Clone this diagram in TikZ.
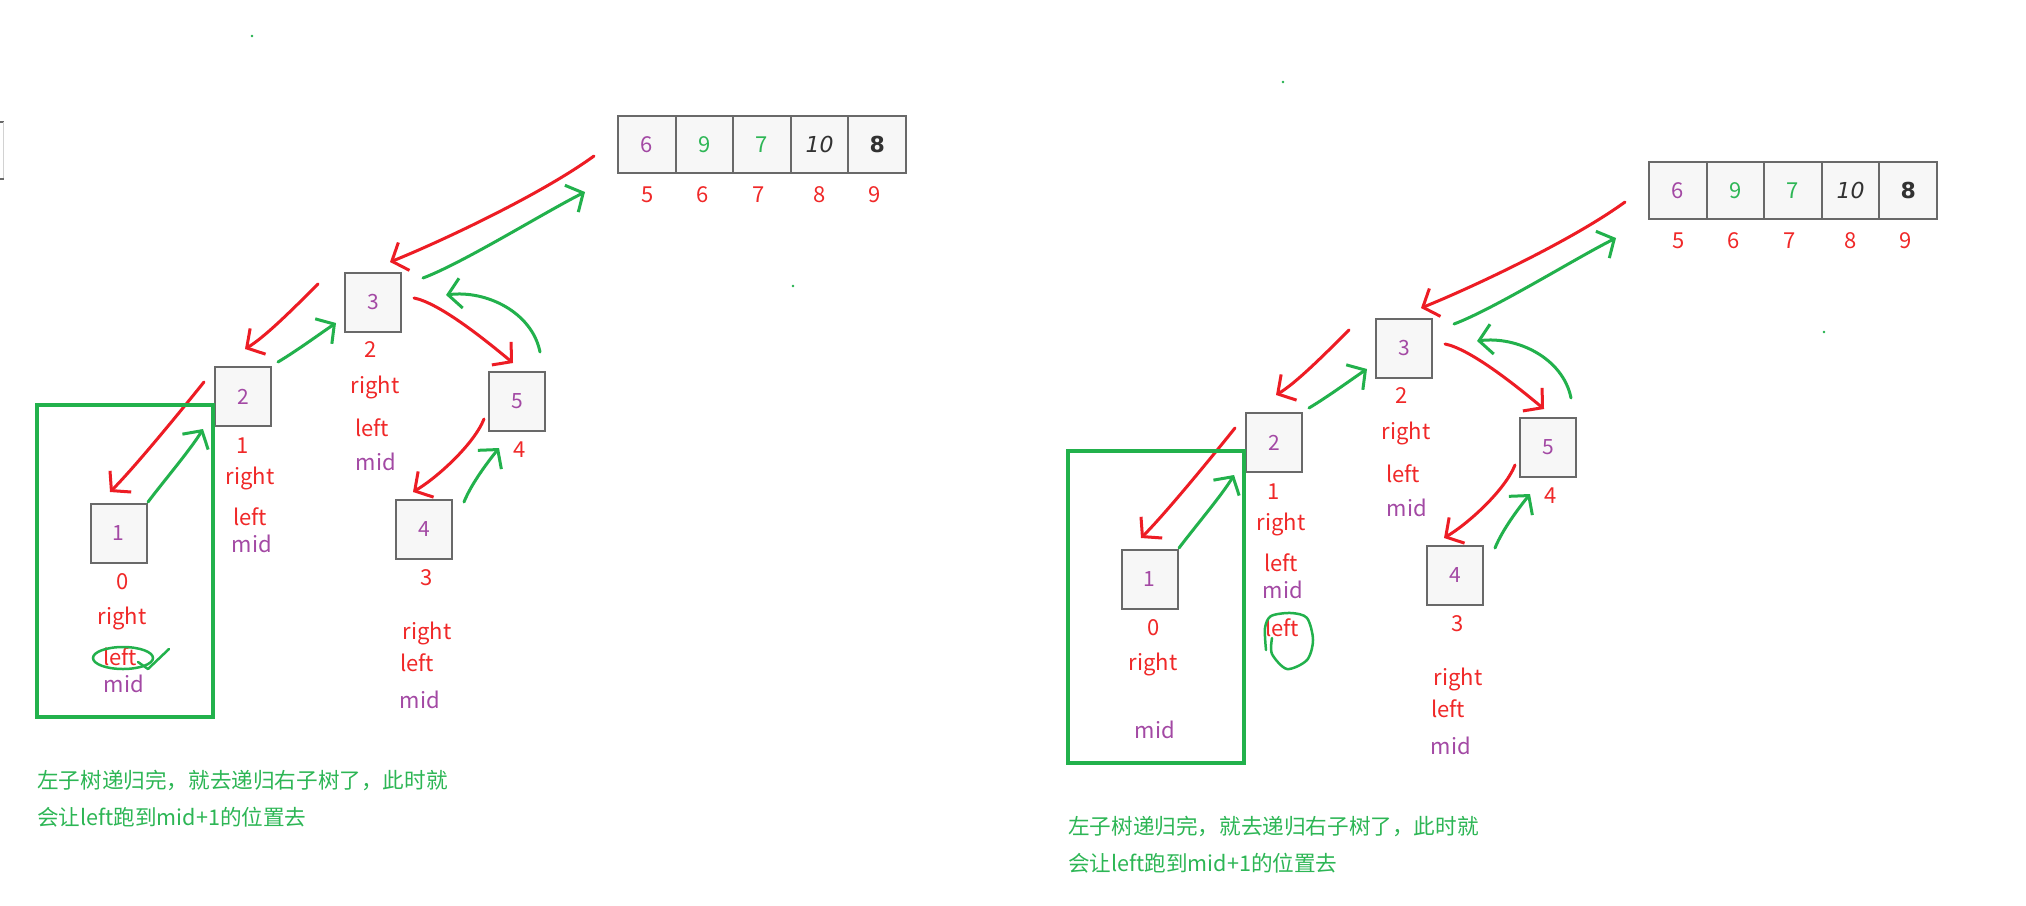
\documentclass[tikz,border=0pt]{standalone}
\usepackage{fontspec}
\setmainfont{Noto Sans CJK SC}
\newfontfamily\handfont{DejaVu Sans}
\usetikzlibrary{positioning,arrows.meta}

\definecolor{hred}{RGB}{237,28,36}
\definecolor{hgreen}{RGB}{34,177,76}
\definecolor{tred}{RGB}{240,40,40}
\definecolor{tpurple}{RGB}{163,73,164}
\definecolor{tgreen}{RGB}{45,182,85}
\definecolor{inkgray}{RGB}{50,50,50}
\definecolor{boxgray}{RGB}{105,105,105}
\definecolor{boxfill}{RGB}{247,247,247}

\tikzset{
  cell/.style={draw=boxgray, fill=boxfill, line width=2pt, minimum width=57.6pt,
    minimum height=57pt, inner sep=0pt, outer sep=0pt, font=\fontsize{22}{26}\selectfont},
  tbox/.style={draw=boxgray, fill=boxfill, line width=2pt, minimum width=56pt,
    minimum height=59pt, inner sep=0pt, text=tpurple, font=\fontsize{21}{25}\selectfont},
  lab/.style={inner sep=0pt, text=tred, font=\fontsize{22}{26}\selectfont},
  midlab/.style={lab, text=tpurple},
  note/.style={anchor=west, inner sep=0pt, text=tgreen, font=\fontsize{21.6}{26}\selectfont},
  hand/.style={line width=3pt, line cap=round, line join=round},
}

% one recursion snapshot, #1 = name prefix
\newcommand{\recpanel}[1]{%
  % array part 5..9
  \node[cell] (#1c1) at (646.8,144.5) {\textcolor{tpurple}{6}};
  \node[cell, right=0pt of #1c1] (#1c2) {\textcolor{tgreen}{9}};
  \node[cell, right=0pt of #1c2] (#1c3) {\textcolor{tgreen}{7}};
  \node[cell, right=0pt of #1c3] (#1c4) {\textcolor{inkgray}{\handfont\itshape 10}};
  \node[cell, right=0pt of #1c4] (#1c5) {\textcolor{inkgray}{\handfont\bfseries 8}};
  \foreach \px/\v [count=\n] in {648/5,703/6,759/7,820/8,875/9}
    \node[lab] (#1i\n) at (\px,195) {\v};

  % recursion boxes
  \node[tbox] (#1b1) at (118.5,533.5) {1};
  \node[tbox] (#1b2) at (243,396.5) {2};
  \node[tbox] (#1b3) at (373,302.5) {3};
  \node[tbox] (#1b5) at (517,401) {5};
  \node[tbox] (#1b4) at (424,529) {4};

  \node[lab] (#1b1n) at (123,582) {0};
  \node[lab] (#1b1r) at (122,618) {right};
  \node[midlab] (#1b1m) at (124,684) {mid};
  \node[lab] (#1b2n) at (243,446) {1};
  \node[lab] (#1b2r) at (250,478) {right};
  \node[lab] (#1b2l) at (250,517) {left};
  \node[midlab] (#1b2m) at (252,544) {mid};
  \node[lab] (#1b3n) at (371,350) {2};
  \node[lab] (#1b3r) at (375,387) {right};
  \node[lab] (#1b3l) at (372,428) {left};
  \node[midlab] (#1b3m) at (376,462) {mid};
  \node[lab] (#1b5n) at (520,450) {4};
  \node[lab] (#1b4n) at (427,578) {3};
  \node[lab] (#1b4r) at (427,633) {right};
  \node[lab] (#1b4l) at (417,663) {left};
  \node[midlab] (#1b4m) at (420,700) {mid};

  % calls (red) and returns (green)
  \draw[->, hand, hred] ([shift={(-24,11.5)}]#1c1.west) .. controls +(-55,40) and +(45,-18) .. ([shift={(17,-10)}]#1b3.north);
  \draw[->, hand, hgreen] ([shift={(21,6)}]#1b3.north east) .. controls +(40,-15) and +(-40,20) .. ([shift={(-33,19)}]#1c1.south west);
  \draw[->, hand, hred] ([shift={(-26,-18.5)}]#1b3.west) .. controls +(-25,25) and +(20,-12) .. ([shift={(2,-17)}]#1b2.north);
  \draw[->, hand, hgreen] ([shift={(6,-4)}]#1b2.north east) .. controls +(20,-12) and +(-15,10) .. ([shift={(-8,20.5)}]#1b3.west);
  \draw[->, hand, hred] ([shift={(-10,-14.5)}]#1b2.west) .. controls +(-20,25) and +(25,-25) .. ([shift={(-8.5,-11)}]#1b1.north);
  \draw[->, hand, hgreen] ([shift={(0.5,-1)}]#1b1.north east) .. controls +(15,-20) and +(-12,20) .. ([shift={(-11,32.5)}]#1b2.west);
  \draw[->, hand, hred] ([shift={(12,-4.5)}]#1b3.east) .. controls +(25,5) and +(-30,-25) .. ([shift={(-4,-7.5)}]#1b5.north);
  \draw[->, hand, hgreen] ([shift={(-6,-18.5)}]#1b5.north east) .. controls +(-8,-40) and +(40,-5) .. ([shift={(44,-7.5)}]#1b3.east);
  \draw[->, hand, hred] ([shift={(-4,18)}]#1b5.west) .. controls +(-10,25) and +(25,-15) .. ([shift={(-11,-6.5)}]#1b4.north);
  \draw[->, hand, hgreen] ([shift={(11,3.5)}]#1b4.north east) .. controls +(8,-20) and +(-8,10) .. ([shift={(-18,16.5)}]#1b5.south);

  % finished left subtree
  \draw[hgreen, line width=4.5pt] (37,405) rectangle (213,717);
  \node[note] (#1t1) at (37,780) {左子树递归完，就去递归右子树了，此时就};
  \node[note] (#1t2) at (37,817) {会让left跑到mid+1的位置去};

  \fill[hgreen] (252,36) circle (1.3);
  \fill[hgreen] (793,286) circle (1.3);
}

\begin{document}
\begin{tikzpicture}[x=1pt, y=-1pt, >={Straight Barb[length=13pt,width=30pt]}]
  \fill[white] (0,0) rectangle (2026,905);
  \useasboundingbox (0,0) rectangle (2026,905);

  % before: left still at 0
  \begin{scope}
    \recpanel{L}
    \node[lab] (Lb1l) at (120,657) {left};
    \draw[hgreen, line width=2.5pt] ([shift={(3,1)}]Lb1l.center) ellipse [x radius=30, y radius=11];
    \draw[hand, hgreen, line width=2.5pt] ([shift={(18,5)}]Lb1l.center) -- ++(10,7) -- ++(21,-20);
    \draw[boxgray, line width=2pt] (0,122) -- (4,122);
    \draw[boxgray!30, line width=1pt] (3,122) -- (3,179);
    \draw[boxgray, line width=2pt] (0,179) -- (4,179);
  \end{scope}

  % after: left moved to mid+1
  \begin{scope}[shift={(1031,46)}]
    \recpanel{R}
    \node[lab] (Rb2x) at (251,582) {left};
    \draw[hand, hgreen, line width=2.5pt] plot[smooth] coordinates
      {(241,592) (241,608) (256,623) (276,614) (282,594) (276,572) (260,567) (240,570) (234,582) (235,604)};
  \end{scope}
\end{tikzpicture}
\end{document}
